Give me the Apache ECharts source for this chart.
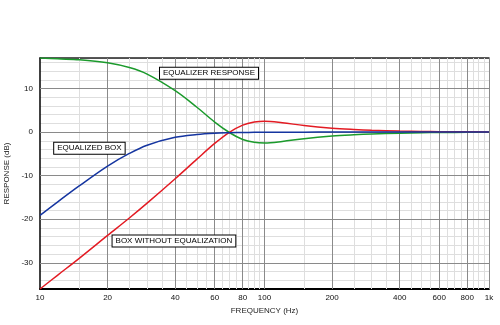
<!DOCTYPE html>
<html><head><meta charset="utf-8">
<script src="https://cdn.jsdelivr.net/npm/echarts@6/dist/echarts.min.js"></script>
<style>html,body{margin:0;padding:0;background:#fff}#c{width:500px;height:325px}</style>
</head><body><div id="c"></div>
<script>
const freqs = [10,12,15,20,25,30,40,50,60,70,80,90,100,120,150,200,250,300,400,500,600,800,1000];
// BOX WITHOUT EQUALIZATION (red), dB
const boxWithoutEq = [-36,-32.8,-28.9,-23.7,-19.7,-16.3,-10.7,-6.2,-2.6,0,1.6,2.3,2.5,2.15,1.5,0.9,0.6,0.42,0.25,0.15,0.1,0.06,0.04];
// EQUALIZED BOX (blue), dB
const equalizedBox = [-19.1,-16,-12.3,-7.8,-4.9,-3,-1.2,-0.55,-0.26,-0.15,-0.09,-0.05,-0.04,-0.02,-0.01,0,0,0,0,0,0,0,0];
// EQUALIZER RESPONSE (green), dB
const eqResponse = [17,16.8,16.6,15.9,14.8,13.3,9.5,5.7,2.3,-0.15,-1.7,-2.35,-2.5,-2.15,-1.5,-0.9,-0.6,-0.42,-0.25,-0.15,-0.1,-0.06,-0.04];
// Axis ticks / grid
const xTickLabels = [10,20,40,60,80,100,200,400,600,800,1000];
const xMajorGrid = [20,40,60,80,100,200,400,600,800,1000];
const xMinorGrid = [15,25,30,35,45,50,55,65,70,75,85,90,95,150,250,300,350,450,500,550,650,700,750,850,900,950];
const yTickLabels = [-30,-20,-10,0,10];
const yMin = -36, yMax = 17;
// Annotations: [text, freq, dB]
const notes = [
  ['EQUALIZER RESPONSE', 56.6, 13.5],
  ['EQUALIZED BOX', 16.6, -3.7],
  ['BOX WITHOUT EQUALIZATION', 39.5, -25.0]
];

const FONT = 'Liberation Sans, Arial, sans-serif';
const pair = (ys) => freqs.map((f, i) => [f, ys[i]]);

const gridLines = [];
xMinorGrid.forEach(v => gridLines.push({xAxis: v, lineStyle: {color: '#dedede', width: 1, type: 'solid'}}));
xMajorGrid.forEach(v => gridLines.push({xAxis: v, lineStyle: {color: '#8a8a8a', width: 1, type: 'solid'}}));
yTickLabels.forEach(v => gridLines.push({yAxis: v, lineStyle: {color: '#8a8a8a', width: 1, type: 'solid'}}));

const noteData = notes.map(n => ({
  coord: [n[1], n[2]],
  value: n[0],
  symbol: 'rect', symbolSize: 0,
  label: {
    show: true, position: 'inside', formatter: n[0],
    fontSize: 8, fontFamily: FONT, color: '#000',
    backgroundColor: '#fff', borderColor: '#000', borderWidth: 1,
    padding: [2, 3, 1, 3], lineHeight: 8
  }
}));

const chart = echarts.init(document.getElementById('c'), null, {renderer: 'canvas'});
chart.setOption({
  animation: false,
  backgroundColor: '#fff',
  grid: {left: 40, right: 11, top: 58, bottom: 36, containLabel: false, outerBoundsMode: 'none'},
  xAxis: [{
    type: 'log', logBase: 10, min: 10, max: 1000, position: 'bottom',
    name: 'FREQUENCY (Hz)', nameLocation: 'middle', nameGap: 15,
    nameTextStyle: {fontSize: 8, fontFamily: FONT, color: '#222'},
    axisLine: {onZero: false, lineStyle: {color: '#000', width: 2}},
    axisTick: {show: false},
    splitLine: {show: false},
    minorTick: {show: false}, minorSplitLine: {show: false},
    axisLabel: {
      customValues: xTickLabels,
      formatter: v => v >= 1000 ? (v / 1000) + 'k' : String(v),
      fontSize: 8, fontFamily: FONT, color: '#111', margin: 5
    }
  }, {
    type: 'log', logBase: 10, min: 10, max: 1000, position: 'top',
    axisLine: {onZero: false, lineStyle: {color: '#222', width: 1.5}},
    axisTick: {show: false}, axisLabel: {show: false}, splitLine: {show: false}
  }],
  yAxis: {
    type: 'value', min: yMin, max: yMax, interval: 2,
    name: 'RESPONSE (dB)', nameLocation: 'middle', nameGap: 26,
    nameTextStyle: {fontSize: 8, fontFamily: FONT, color: '#222'},
    axisLine: {show: true, onZero: false, lineStyle: {color: '#000', width: 1.5}},
    axisTick: {show: false},
    splitLine: {show: true, lineStyle: {color: '#dedede', width: 1}},
    axisLabel: {
      formatter: v => (yTickLabels.indexOf(v) >= 0 ? String(v) : ''),
      fontSize: 8, fontFamily: FONT, color: '#111', margin: 7
    }
  },
  series: [{
    type: 'line', data: [], silent: true,
    markLine: {silent: true, z: 1, symbol: ['none', 'none'], label: {show: false},
      emphasis: {disabled: true}, animation: false, data: gridLines}
  }, {
    name: 'EQUALIZER RESPONSE', type: 'line', data: pair(eqResponse),
    smooth: 0.35, showSymbol: false, lineStyle: {color: '#1b9a2c', width: 1.5}, z: 3
  }, {
    name: 'BOX WITHOUT EQUALIZATION', type: 'line', data: pair(boxWithoutEq),
    smooth: 0.35, showSymbol: false, lineStyle: {color: '#e31b23', width: 1.5}, z: 3
  }, {
    name: 'EQUALIZED BOX', type: 'line', data: pair(equalizedBox),
    smooth: 0.35, showSymbol: false, lineStyle: {color: '#1535a0', width: 1.5}, z: 4,
    markPoint: {silent: true, z: 6, animation: false, data: noteData}
  }]
});
</script></body></html>
